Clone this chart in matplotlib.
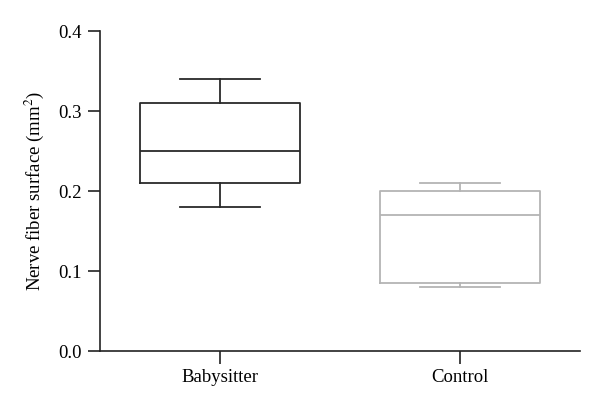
import matplotlib
matplotlib.use("Agg")
from matplotlib import pyplot as plt

# box plot summary values
groups = ["Babysitter", "Control"]
whislo = [0.18, 0.08]
q1 = [0.21, 0.085]
med = [0.25, 0.17]
q3 = [0.31, 0.20]
whishi = [0.34, 0.21]
colors = ["#2a2a2a", "#b4b4b4"]

plt.rcParams["font.family"] = ["Liberation Serif", "DejaVu Serif"]
plt.rcParams["mathtext.fontset"] = "stix"

fig = plt.figure(figsize=(6, 4.12), dpi=100)
ax = fig.add_axes([100 / 600, 61 / 412, 480 / 600, 320 / 412])

for i, g in enumerate(groups):
    stats = [{"label": g, "whislo": whislo[i], "q1": q1[i], "med": med[i],
              "q3": q3[i], "whishi": whishi[i], "fliers": []}]
    c = colors[i]
    lp = dict(color=c, linewidth=1.3)
    ax.bxp(stats, positions=[i + 1], widths=0.667, showfliers=False,
           boxprops=lp, whiskerprops=lp, capprops=lp, medianprops=lp,
           capwidths=0.333, manage_ticks=False)

ax.set_xlim(0.5, 2.5)
ax.set_ylim(0, 0.4)
ax.set_xticks([1, 2])
ax.set_xticklabels(groups)
ax.set_yticks([0.0, 0.1, 0.2, 0.3, 0.4])
ax.set_yticklabels(["0.0", "0.1", "0.2", "0.3", "0.4"])
ax.spines["top"].set_visible(False)
ax.spines["right"].set_visible(False)
for s in ("left", "bottom"):
    ax.spines[s].set_linewidth(1.2)
    ax.spines[s].set_color("#222222")
ax.tick_params(axis="both", length=9, width=1.2, color="#222222",
               labelsize=13.5, pad=4)
ax.set_ylabel("Nerve fiber surface (mm$^2$)", fontsize=13.5, labelpad=9)

fig.savefig("out.png", dpi=100)
